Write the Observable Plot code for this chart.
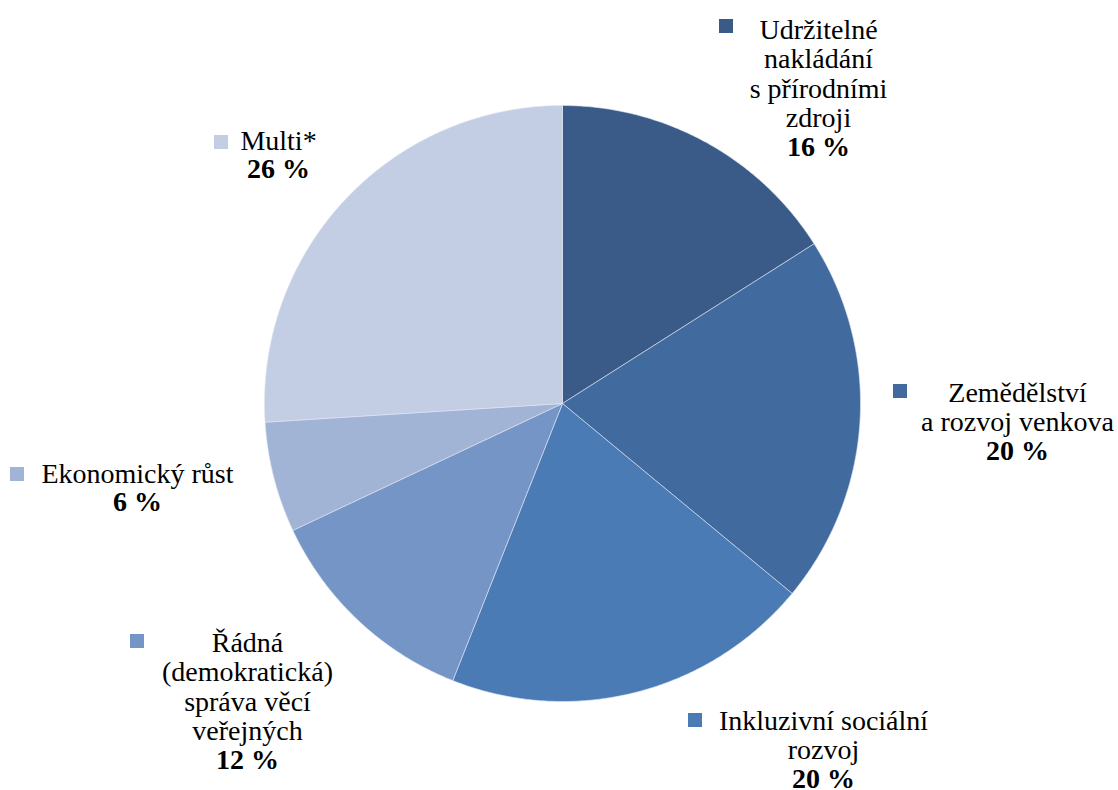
<!DOCTYPE html>
<html><head><meta charset="utf-8">
<script src="https://cdn.jsdelivr.net/npm/d3@7"></script>
<script src="https://cdn.jsdelivr.net/npm/@observablehq/plot@0.6"></script>
<style>body{margin:0;background:#fff}svg{display:block}svg text{font-family:"Liberation Serif","DejaVu Serif",serif !important}</style>
</head><body><div id="chart"></div>
<script>
// ---- data ----
const categories = ["Udržitelné nakládání s přírodními zdroji","Zemědělství a rozvoj venkova","Inkluzivní sociální rozvoj","Řádná (demokratická) správa věcí veřejných","Ekonomický růst","Multi*"];
const labelLines = [["Udržitelné","nakládání","s přírodními","zdroji"],["Zemědělství","a rozvoj venkova"],["Inkluzivní sociální","rozvoj"],["Řádná","(demokratická)","správa věcí","veřejných"],["Ekonomický růst"],["Multi*"]];
const shares = [16, 20, 20, 12, 6, 26];
const colors = ["#3a5b88","#416a9e","#4a7bb5","#7595c6","#a1b4d6","#c3cde3"];

// ---- layout (pixels) ----
const W = 1118, H = 790, CX = 562, CY = 403, R = 298;
const FS = 28, LH = 29.5;
const labelLayout = [ // [text center x, first baseline y, square x, square y]
  [818, 37, 726, 26],
  [1017, 400, 900, 391],
  [823, 728, 695, 720],
  [247, 650, 137, 641],
  [137, 481, 17, 474],
  [278, 148, 221, 142]
];

// data coords: 1 unit = 1 px, origin at pie center, y up
const total = d3.sum(shares);
let acc = 0;
const slicePts = [];
shares.forEach((v, i) => {
  const a0 = acc / total * 2 * Math.PI, a1 = (acc + v) / total * 2 * Math.PI;
  acc += v;
  slicePts.push({k: i, x: 0, y: 0});
  const n = Math.max(2, Math.ceil((a1 - a0) / (Math.PI / 360)));
  for (let j = 0; j <= n; j++) {
    const a = a0 + (a1 - a0) * j / n;
    slicePts.push({k: i, x: R * Math.sin(a), y: R * Math.cos(a)});
  }
  slicePts.push({k: i, x: 0, y: 0});
});

const labels = categories.map((c, i) => {
  const [tx, by, sx, sy] = labelLayout[i];
  const lines = labelLines[i];
  return {
    k: i,
    name: lines.join("\n"),
    pct: shares[i] + " %",
    x: tx - CX,
    yTop: CY - (by - 0.71 * FS),
    yPct: CY - (by + lines.length * LH - 0.71 * FS),
    sx: sx - CX, sy: CY - sy
  };
});

const chart = Plot.plot({
  width: W, height: H,
  margin: 0,
  style: {fontFamily: "'Liberation Serif', serif", background: "#fff"},
  x: {domain: [-CX, W - CX], range: [0, W], axis: null},
  y: {domain: [CY - H, CY], range: [H, 0], axis: null},
  color: {domain: d3.range(categories.length), range: colors},
  marks: [
    Plot.line(slicePts, {x: "x", y: "y", z: "k", fill: d => d.k, stroke: "#dfe6f1", strokeWidth: 0.6, curve: "linear"}),
    Plot.rect(labels, {x1: d => d.sx - 7, x2: d => d.sx + 7, y1: d => d.sy - 7, y2: d => d.sy + 7, fill: d => d.k}),
    Plot.text(labels, {x: "x", y: "yTop", text: "name", lineAnchor: "top", lineHeight: LH / FS, textAnchor: "middle", fontSize: FS, fontFamily: "'Liberation Serif', serif", fill: "#000"}),
    Plot.text(labels, {x: "x", y: "yPct", text: "pct", lineAnchor: "top", textAnchor: "middle", fontSize: FS, fontWeight: "bold", fontFamily: "'Liberation Serif', serif", fill: "#000"})
  ]
});
document.getElementById("chart").appendChild(chart);
</script>
</body></html>
